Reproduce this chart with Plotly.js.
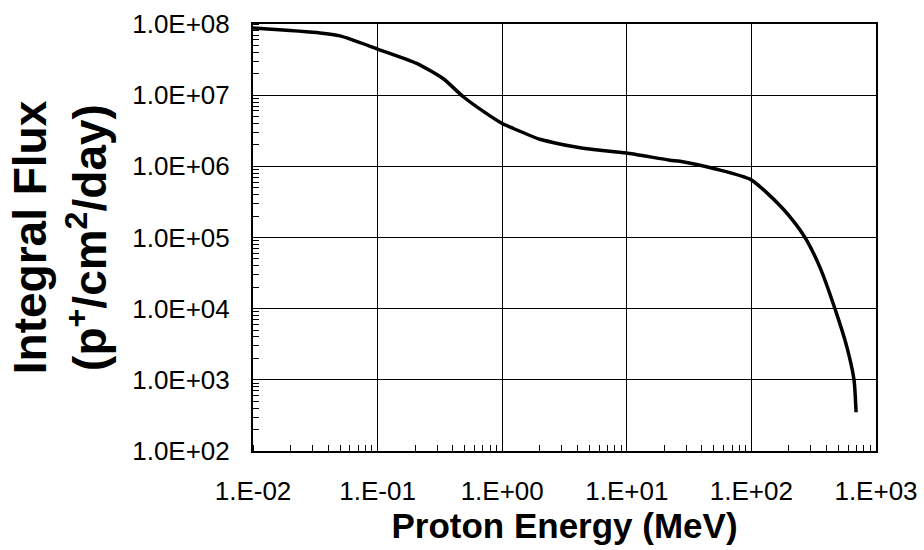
<!DOCTYPE html>
<html>
<head>
<meta charset="utf-8">
<script src="https://cdn.plot.ly/plotly-3.0.1.min.js"></script>
<style>html,body{margin:0;padding:0;background:#fff;}#chart{width:924px;height:550px;}</style>
</head>
<body>
<div id="chart"></div>
<script>
// Proton energy (MeV)
const energy = [0.01, 0.0345, 0.05, 0.1, 0.206, 0.337, 0.487, 0.75, 1.0, 1.23, 2.0, 2.6, 3.7, 5.4, 9.9, 22.2, 26.7, 52.6, 99, 170, 231, 278, 355, 468, 582, 666, 692];
// Integral flux (p+/cm2/day)
const flux = [8.8e7, 7.5e7, 6.8e7, 4.45e7, 2.8e7, 1.7e7, 9.5e6, 5.5e6, 4.0e6, 3.4e6, 2.4e6, 2.15e6, 1.9e6, 1.72e6, 1.54e6, 1.22e6, 1.18e6, 9.1e5, 6.5e5, 2.8e5, 1.48e5, 9.1e4, 3.8e4, 1.0e4, 2.95e3, 1.0e3, 3.5e2];

const xTickVals = [0.01, 0.1, 1, 10, 100, 1000];
const xTickText = ["1.E-02", "1.E-01", "1.E+00", "1.E+01", "1.E+02", "1.E+03"];
const yTickVals = [1e2, 1e3, 1e4, 1e5, 1e6, 1e7, 1e8];
const yTickText = ["1.0E+02", "1.0E+03", "1.0E+04", "1.0E+05", "1.0E+06", "1.0E+07", "1.0E+08"];

const font = "Liberation Sans, Arial, sans-serif";

const trace = {
  x: energy, y: flux, type: 'scatter', mode: 'lines',
  line: {color: '#000', width: 3.5, shape: 'spline', smoothing: 0.6},
  hoverinfo: 'x+y'
};

const layout = {
  width: 924, height: 550,
  margin: {l: 253, r: 48, t: 24, b: 99},
  paper_bgcolor: '#fff', plot_bgcolor: '#fff',
  showlegend: false,
  font: {family: font, color: '#000'},
  xaxis: {
    type: 'log', range: [-2, 3], automargin: false,
    tickvals: xTickVals, ticktext: xTickText,
    tickfont: {family: font, size: 26, color: '#000'},
    ticks: '', ticklabelstandoff: 16,
    showgrid: true, gridcolor: '#000', gridwidth: 1,
    showline: true, linecolor: '#000', linewidth: 2, mirror: true,
    zeroline: false,
    minor: {ticks: 'inside', ticklen: 6, tickcolor: '#000', tickwidth: 1, dtick: 'D1', showgrid: false},
    title: {text: 'Proton Energy (MeV)', font: {family: font, size: 35, color: '#000', weight: 'bold'}, standoff: 8}
  },
  yaxis: {
    type: 'log', range: [2, 8], automargin: false,
    tickvals: yTickVals, ticktext: yTickText,
    tickfont: {family: font, size: 26, color: '#000'},
    ticks: '', ticklabelstandoff: 16,
    showgrid: true, gridcolor: '#000', gridwidth: 1,
    showline: true, linecolor: '#000', linewidth: 2, mirror: true,
    zeroline: false,
    minor: {ticks: 'inside', ticklen: 6, tickcolor: '#000', tickwidth: 1, dtick: 'D1', showgrid: false},
    title: {text: 'Integral Flux<br>(p<sup>+</sup>/cm<sup>2</sup>/day)', font: {family: font, size: 46, color: '#000', weight: 'bold'}, standoff: 11}
  }
};

Plotly.newPlot('chart', [trace], layout, {displayModeBar: false, staticPlot: true});
</script>
</body>
</html>
